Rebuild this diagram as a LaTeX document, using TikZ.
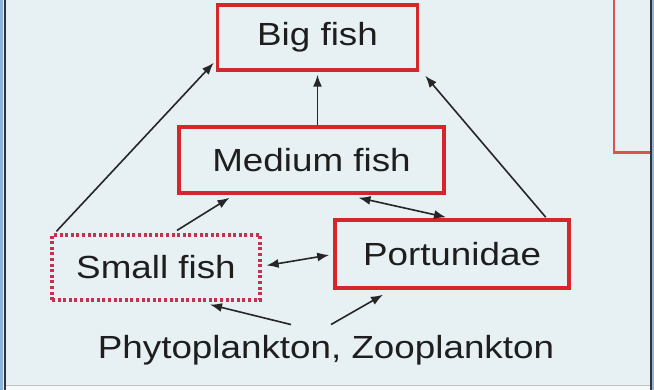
\documentclass[tikz,border=0pt]{standalone}
\usepackage{fontspec}
\setmainfont{Liberation Sans}[FakeStretch=1.15]
\usetikzlibrary{arrows.meta,calc}
\definecolor{bgc}{HTML}{E7F0F3}
\definecolor{boxred}{HTML}{D4262B}
\definecolor{dotred}{HTML}{C8304F}
\definecolor{txt}{HTML}{1E1E1E}
\definecolor{edgeblue}{HTML}{8DB4DC}
\begin{document}
\begin{tikzpicture}[x=1pt,y=-1pt,
  every node/.style={font=\fontsize{32}{36}\selectfont, text=txt},
  redbox/.style={draw=boxred, line width=3.5pt, rectangle, inner sep=0pt},
  dotbox/.style={draw=dotred, line width=3.2pt, dash pattern=on 3pt off 2.6pt, rectangle, inner sep=0pt},
  link/.style={draw=black!85, line width=1.6pt, -{Latex[length=12pt,width=9pt]}},
  biglink/.style={draw=black!85, line width=1.6pt, {Latex[length=12pt,width=9pt]}-{Latex[length=12pt,width=9pt]}}
]
\useasboundingbox (0,0) rectangle (654,390);
% background and frame
\fill[bgc] (0,0) rectangle (654,390);
\fill[edgeblue] (0,0) rectangle (3,390);
\fill[edgeblue] (652,0) rectangle (654,390);
\fill[white!60!bgc] (5,386) rectangle (650,390);
\draw[black!25, line width=0.8pt] (5,385.5) -- (650,385.5);
% partial red box at right
\draw[boxred!80, line width=2.5pt] (614,0) -- (614,152.5) -- (652,152.5);
\draw[black!80, line width=2pt] (4.5,0) -- (4.5,390);
\draw[black!80, line width=2pt] (650.5,0) -- (650.5,390);
% nodes
\node[redbox, minimum width=200pt, minimum height=65pt] (big) at (317.5,37.5) {Big fish};
\node[redbox, minimum width=265pt, minimum height=66pt] (medium) at (311.5,160) {Medium fish};
\node[dotbox, minimum width=208pt, minimum height=65pt] (small) at (156,267.5) {Small fish};
\node[redbox, minimum width=234pt, minimum height=68pt] (port) at (452,254) {Portunidae};
\node (plank) at (326,350) {Phytoplankton, Zooplankton};
% connectors
\draw[link] ($(small.north west)+(6,-2)$) -- ($(big.south west)+(-2,-9)$);
\draw[link] (big.south |- medium.north) -- ($(big.south)+(0,3)$);
\draw[link] ($(port.north east)+(-25,-1)$) -- ($(big.south east)+(6,4)$);
\draw[link] ($(small.north)+(21,-3)$) -- ($(medium.south)+(-82,3)$);
\draw[biglink] ($(medium.south)+(47,3)$) -- ($(port.north)+(-6,-1)$);
\draw[biglink] ($(small.east)+(5,-2)$) -- ($(port.west)+(-4,1)$);
\draw[link] ($(plank.north)+(-35,-7)$) -- ($(small.south)+(54,3)$);
\draw[link] ($(plank.north)+(5,-7)$) -- ($(port.south)+(-69,5)$);
\end{tikzpicture}
\end{document}
